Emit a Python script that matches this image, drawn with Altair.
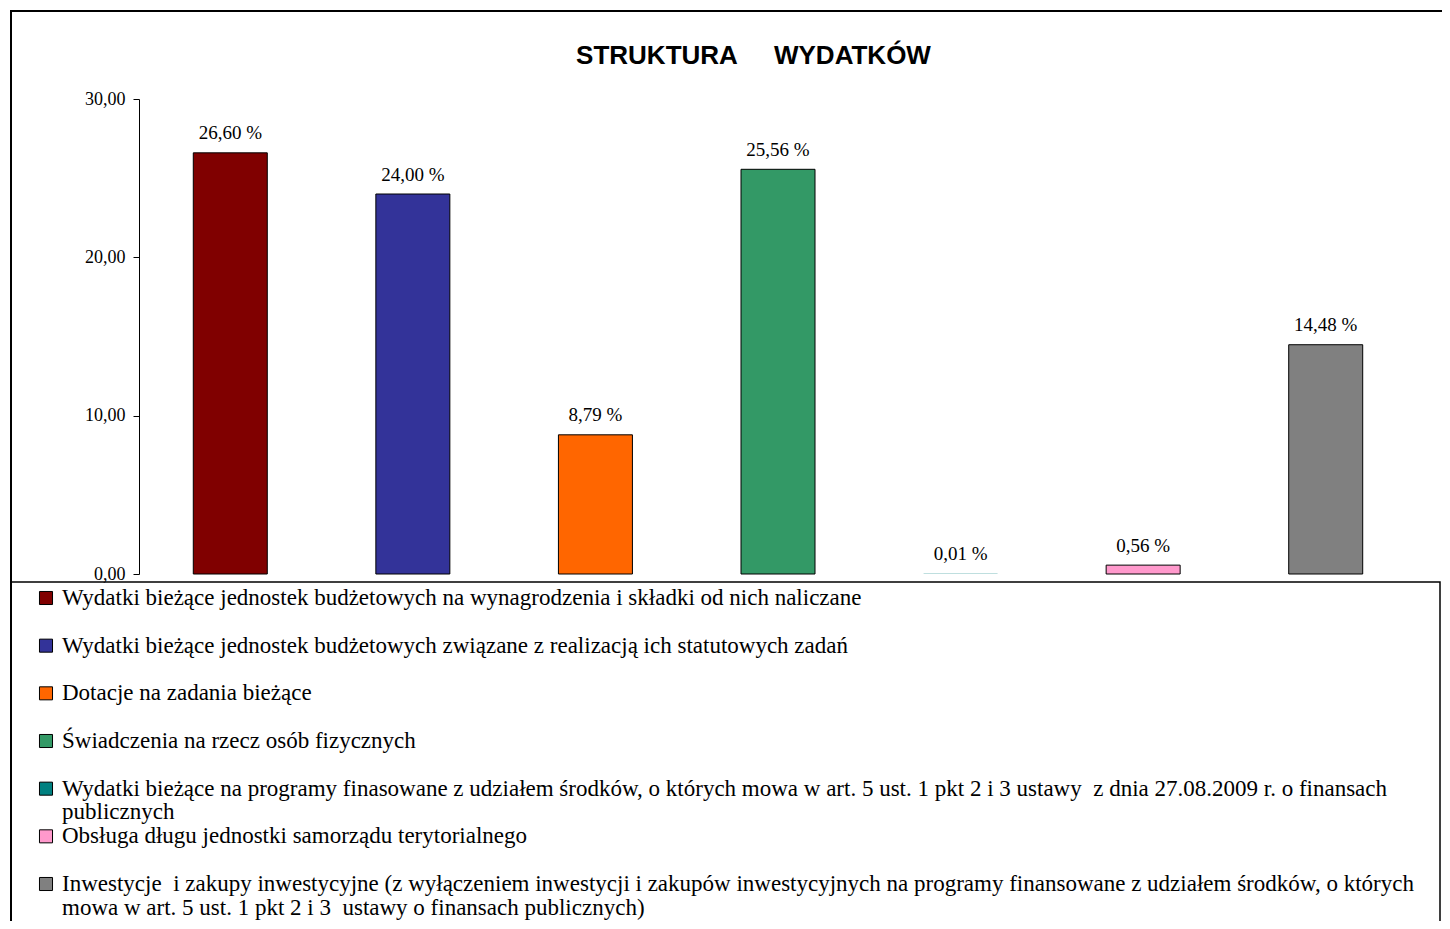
import altair as alt
import pandas as pd

categories = [
    "Wydatki bieżące jednostek budżetowych na wynagrodzenia i składki od nich naliczane",
    "Wydatki bieżące jednostek budżetowych związane z realizacją ich statutowych zadań",
    "Dotacje na zadania bieżące",
    "Świadczenia na rzecz osób fizycznych",
    "Wydatki bieżące na programy finasowane z udziałem środków, o których mowa w art. 5 ust. 1 pkt 2 i 3 ustawy  z dnia 27.08.2009 r. o finansach publicznych",
    "Obsługa długu jednostki samorządu terytorialnego",
    "Inwestycje  i zakupy inwestycyjne (z wyłączeniem inwestycji i zakupów inwestycyjnych na programy finansowane z udziałem środków, o których mowa w art. 5 ust. 1 pkt 2 i 3  ustawy o finansach publicznych)",
]
legend_line1 = [
    "Wydatki bieżące jednostek budżetowych na wynagrodzenia i składki od nich naliczane",
    "Wydatki bieżące jednostek budżetowych związane z realizacją ich statutowych zadań",
    "Dotacje na zadania bieżące",
    "Świadczenia na rzecz osób fizycznych",
    "Wydatki bieżące na programy finasowane z udziałem środków, o których mowa w art. 5 ust. 1 pkt 2 i 3 ustawy  z dnia 27.08.2009 r. o finansach",
    "Obsługa długu jednostki samorządu terytorialnego",
    "Inwestycje  i zakupy inwestycyjne (z wyłączeniem inwestycji i zakupów inwestycyjnych na programy finansowane z udziałem środków, o których",
]
legend_line2 = [
    "", "", "", "",
    "publicznych",
    "",
    "mowa w art. 5 ust. 1 pkt 2 i 3  ustawy o finansach publicznych)",
]
values = [26.60, 24.00, 8.79, 25.56, 0.01, 0.56, 14.48]
colors = ["#800000", "#333399", "#FF6600", "#339966", "#008080", "#FF99CC", "#808080"]
y_ticks = [0, 10, 20, 30]
title_text = "STRUKTURA" + "\u00a0" * 5 + "WYDATKÓW"


def keep_spaces(s):
    return s.replace("  ", " \u00a0")


df = pd.DataFrame({
    "cat": categories,
    "value": values,
    "label": [f"{v:.2f}".replace(".", ",") + " %" for v in values],
    "line1": [keep_spaces(s) for s in legend_line1],
    "line2": [keep_spaces(s) for s in legend_line2],
})

SERIF = "Liberation Serif"
LEG_FS = 23
color_enc = alt.Color("cat:N", scale=alt.Scale(domain=categories, range=colors), legend=None)
x_enc = alt.X("cat:N", sort=categories, scale=alt.Scale(paddingInner=0, paddingOuter=0), axis=None)
y_scale = alt.Scale(domain=[0, 30], nice=False, zero=True)

base = alt.Chart(df)

bars = base.mark_bar(size=74, stroke="black", strokeWidth=1).encode(
    x=x_enc,
    y=alt.Y("value:Q", scale=y_scale, title=None,
            axis=alt.Axis(values=y_ticks, grid=False, domainColor="black", tickColor="black",
                          tickSize=6, labelPadding=8, labelFont=SERIF, labelFontSize=18,
                          labelColor="black",
                          labelExpr="replace(format(datum.value, '.2f'), '.', ',')")),
    color=color_enc,
    strokeOpacity=alt.condition("datum.value < 0.05", alt.value(0), alt.value(1)),
)

bar_labels = base.mark_text(font=SERIF, fontSize=19, baseline="alphabetic", dy=-13.5, color="black").encode(
    x=x_enc,
    y=alt.Y("value:Q", scale=y_scale, axis=None),
    text="label:N",
)

leg_y = alt.Y("cat:N", sort=categories,
              scale=alt.Scale(type="point", range=[499, 785], padding=0), axis=None)

leg_squares = base.mark_square(size=170, stroke="black", strokeWidth=1, opacity=1).encode(
    x=alt.value(-93),
    y=leg_y,
    color=color_enc,
)
leg_text1 = base.mark_text(font=SERIF, fontSize=LEG_FS, align="left", baseline="middle", color="black").encode(
    x=alt.value(-77),
    y=leg_y,
    text="line1:N",
)
leg_text2 = base.mark_text(font=SERIF, fontSize=LEG_FS, align="left", baseline="middle", dy=23.5, color="black").encode(
    x=alt.value(-77),
    y=leg_y,
    text="line2:N",
)

one = alt.Data(values=[{"k": 1}])
outer_frame = alt.Chart(one).mark_rect(filled=False, stroke="black", strokeWidth=2).encode(
    x=alt.value(-128), x2=alt.value(1340), y=alt.value(-88), y2=alt.value(900)
)
legend_box = alt.Chart(one).mark_rect(filled=False, stroke="black", strokeWidth=1.5).encode(
    x=alt.value(-128), x2=alt.value(1301), y=alt.value(483), y2=alt.value(900)
)
title = alt.Chart(alt.Data(values=[{"t": title_text}])).mark_text(
    font="Liberation Sans", fontSize=26, fontWeight="bold", align="center", baseline="alphabetic", color="black"
).encode(x=alt.value(614.5), y=alt.value(-35), text="t:N")

chart = alt.layer(
    outer_frame, legend_box, title, bars, bar_labels, leg_squares, leg_text1, leg_text2
).resolve_scale(y="independent").properties(
    width=1278, height=475,
    autosize=alt.AutoSizeParams(type="none"),
    padding={"left": 131, "top": 91, "right": 25, "bottom": 347},
    background="white",
).configure_view(stroke=None)

chart.save("out.html", embed_options={"renderer": "svg", "actions": False})
